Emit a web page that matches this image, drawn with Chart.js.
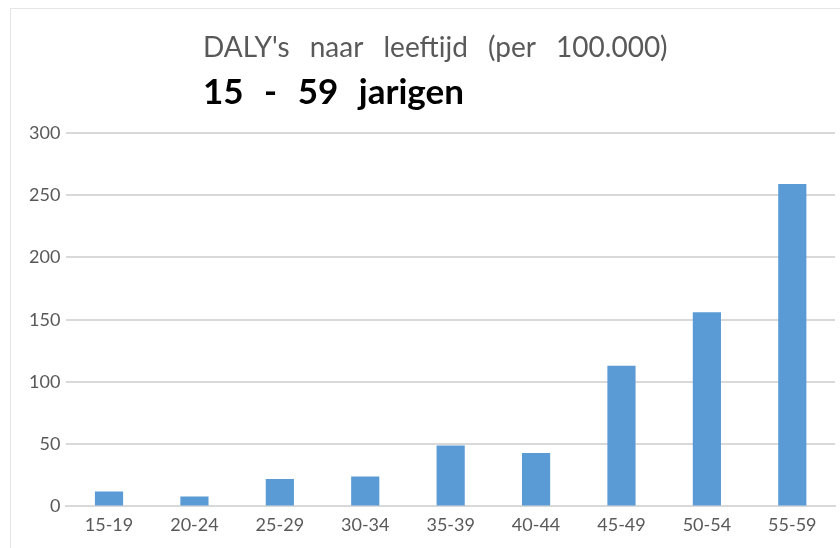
<!DOCTYPE html>
<html>
<head>
<meta charset="utf-8">
<script src="https://cdn.jsdelivr.net/npm/chart.js@4.4.1/dist/chart.umd.min.js"></script>
<style>
  html, body { margin: 0; padding: 0; background: #ffffff; }
  #wrap { position: relative; width: 840px; height: 548px; }
  #frame { position: absolute; left: 10px; top: 8px; right: 0; bottom: 0; border-left: 1px solid #e6e6e6; border-top: 1px solid #e6e6e6; pointer-events: none; }
  canvas { display: block; }
</style>
</head>
<body>
<div id="wrap">
  <canvas id="c" width="840" height="548"></canvas>
  <div id="frame"></div>
</div>
<script>
const categories = ["15-19", "20-24", "25-29", "30-34", "35-39", "40-44", "45-49", "50-54", "55-59"];
const dalyValues = [12, 8, 22, 24, 49, 43, 113, 156, 259];
const titleText = "DALY's naar leeftijd (per 100.000)";
const subtitleText = "15 - 59 jarigen";

const titlePlugin = {
  id: 'customTitles',
  afterDraw(chart) {
    const ctx = chart.ctx;
    ctx.save();
    ctx.textBaseline = 'alphabetic';
    ctx.textAlign = 'left';
    ctx.fillStyle = '#595959';
    ctx.font = '28px Lato';
    if ('wordSpacing' in ctx) ctx.wordSpacing = '13px';
    ctx.fillText(titleText, 203, 57);
    ctx.fillStyle = '#000000';
    ctx.font = 'bold 35px Lato';
    if ('wordSpacing' in ctx) ctx.wordSpacing = '12px';
    ctx.fillText(subtitleText, 203, 104);
    ctx.restore();
  }
};

new Chart(document.getElementById('c'), {
  type: 'bar',
  data: {
    labels: categories,
    datasets: [{
      data: dalyValues,
      backgroundColor: '#5b9bd5',
      borderWidth: 0,
      categoryPercentage: 1.0,
      barPercentage: 0.33
    }]
  },
  options: {
    responsive: false,
    animation: false,
    devicePixelRatio: 1,
    layout: { padding: { top: 133, left: 23, right: 5, bottom: 4 } },
    plugins: {
      legend: { display: false },
      title: { display: false },
      tooltip: { enabled: false }
    },
    scales: {
      x: {
        grid: { display: false, drawTicks: false },
        border: { display: true, color: '#d9d9d9', width: 2 },
        ticks: { color: '#595959', font: { family: 'Lato', size: 18 }, padding: 8 }
      },
      y: {
        min: 0,
        max: 300,
        ticks: { stepSize: 50, color: '#595959', font: { family: 'Lato', size: 18 }, padding: 6 },
        grid: { color: '#d9d9d9', lineWidth: 2, drawTicks: false },
        border: { display: false }
      }
    }
  },
  plugins: [titlePlugin]
});
</script>
</body>
</html>
